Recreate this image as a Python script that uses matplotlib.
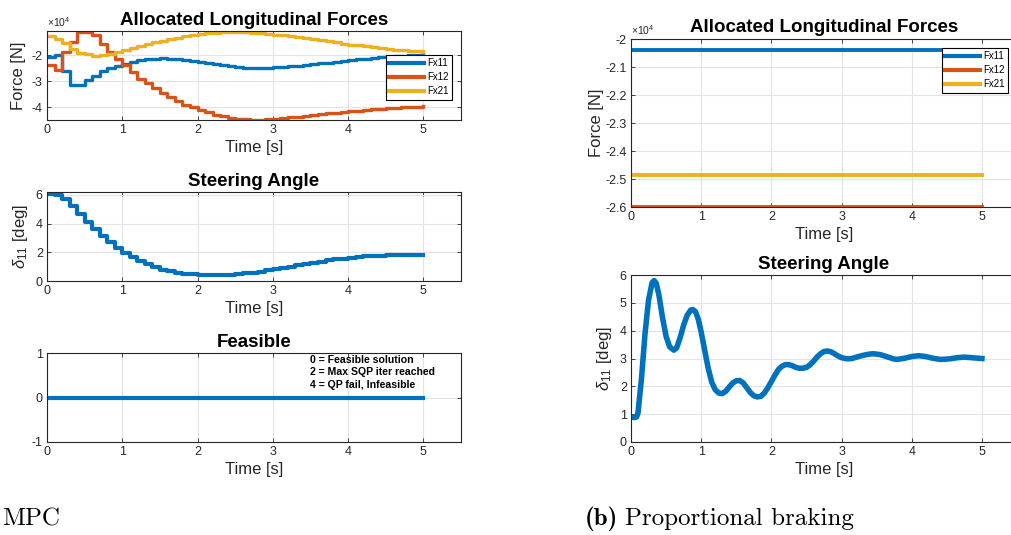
import numpy as np
import matplotlib
matplotlib.use("Agg")
import matplotlib.pyplot as plt
from matplotlib.ticker import FormatStrFormatter

plt.rcParams['font.family'] = ['Liberation Sans', 'DejaVu Sans']
plt.rcParams['mathtext.fontset'] = 'custom'
plt.rcParams['mathtext.rm'] = 'Liberation Sans'
plt.rcParams['mathtext.it'] = 'Liberation Sans:italic'
plt.rcParams['axes.unicode_minus'] = False

# MATLAB default colors
C1, C2, C3 = '#0072BD', '#D95319', '#EDB120'
DARK = '#262626'

# ---- (a) MPC, sampled every 0.1 s (x 1e4 N for forces)
t_mpc = np.round(np.arange(0, 5.01, 0.1), 2)
fx11_mpc = [-2.07, -1.99, -2.62, -3.12, -3.12, -2.95, -2.78, -2.62, -2.49, -2.40,
            -2.32, -2.25, -2.20, -2.16, -2.13, -2.12, -2.13, -2.15, -2.18, -2.22,
            -2.26, -2.30, -2.34, -2.38, -2.42, -2.45, -2.47, -2.48, -2.48, -2.47,
            -2.46, -2.44, -2.42, -2.40, -2.37, -2.34, -2.31, -2.28, -2.25, -2.22,
            -2.19, -2.16, -2.13, -2.10, -2.07, -2.05, -2.03, -2.01, -1.99, -1.98,
            -1.97]
fx12_mpc = [-2.38, -2.57, -1.87, -1.49, -1.09, -1.09, -1.24, -1.56, -1.87, -2.16,
            -2.38, -2.63, -2.89, -3.08, -3.27, -3.46, -3.61, -3.77, -3.90, -3.99,
            -4.09, -4.19, -4.27, -4.34, -4.39, -4.43, -4.46, -4.47, -4.47, -4.46,
            -4.44, -4.41, -4.38, -4.35, -4.32, -4.29, -4.26, -4.23, -4.20, -4.18,
            -4.15, -4.12, -4.10, -4.07, -4.05, -4.03, -4.01, -3.99, -3.98, -3.97,
            -3.96]
fx21_mpc = [-1.28, -1.37, -1.53, -1.75, -1.90, -1.97, -2.01, -2.00, -1.94, -1.86,
            -1.79, -1.71, -1.64, -1.57, -1.50, -1.44, -1.38, -1.32, -1.27, -1.23,
            -1.19, -1.16, -1.13, -1.11, -1.10, -1.10, -1.11, -1.13, -1.15, -1.18,
            -1.21, -1.24, -1.27, -1.31, -1.35, -1.39, -1.43, -1.47, -1.51, -1.55,
            -1.59, -1.62, -1.66, -1.69, -1.72, -1.75, -1.78, -1.81, -1.83, -1.85,
            -1.87]
delta_mpc = [6.08, 6.00, 5.70, 5.20, 4.65, 4.10, 3.60, 3.15, 2.70, 2.30,
             1.95, 1.65, 1.38, 1.15, 0.95, 0.80, 0.68, 0.58, 0.51, 0.46,
             0.43, 0.41, 0.41, 0.42, 0.44, 0.48, 0.53, 0.59, 0.66, 0.74,
             0.82, 0.91, 1.00, 1.09, 1.18, 1.27, 1.35, 1.43, 1.50, 1.56,
             1.62, 1.67, 1.71, 1.74, 1.77, 1.79, 1.80, 1.81, 1.82, 1.82,
             1.82]
feasible = [0] * len(t_mpc)

# ---- (b) Proportional braking
t_pb_force = [0, 5]
fx11_pb = [-2.039, -2.039]
fx12_pb = [-2.600, -2.600]
fx21_pb = [-2.485, -2.485]

t_pb = [0.00, 0.05, 0.08, 0.10, 0.15, 0.20, 0.25, 0.30, 0.33, 0.36, 0.40, 0.45,
        0.50, 0.55, 0.61, 0.65, 0.70, 0.75, 0.80, 0.85, 0.88, 0.92, 0.96, 1.00,
        1.05, 1.10, 1.15, 1.20, 1.25, 1.30, 1.35, 1.40, 1.45, 1.50, 1.55, 1.60,
        1.65, 1.70, 1.75, 1.80, 1.85, 1.90, 1.95, 2.00, 2.05, 2.10, 2.15, 2.20,
        2.25, 2.30, 2.35, 2.40, 2.45, 2.50, 2.55, 2.60, 2.65, 2.70, 2.75, 2.80,
        2.85, 2.90, 2.95, 3.00, 3.05, 3.10, 3.15, 3.20, 3.30, 3.40, 3.46, 3.55,
        3.65, 3.75, 3.80, 3.90, 4.00, 4.10, 4.20, 4.30, 4.40, 4.45, 4.55, 4.65,
        4.75, 4.85, 5.00]
delta_pb = [0.90, 0.88, 0.90, 1.05, 2.30, 3.90, 5.10, 5.72, 5.80, 5.70, 5.25, 4.45,
            3.80, 3.42, 3.30, 3.38, 3.75, 4.20, 4.55, 4.74, 4.76, 4.68, 4.40, 3.95,
            3.30, 2.65, 2.15, 1.88, 1.76, 1.74, 1.82, 1.98, 2.12, 2.20, 2.21, 2.12,
            1.95, 1.78, 1.66, 1.62, 1.64, 1.76, 1.95, 2.17, 2.40, 2.60, 2.72, 2.78,
            2.78, 2.74, 2.68, 2.65, 2.65, 2.68, 2.77, 2.90, 3.05, 3.17, 3.25, 3.27,
            3.24, 3.17, 3.09, 3.03, 3.00, 2.99, 3.00, 3.04, 3.11, 3.16, 3.17, 3.14,
            3.06, 2.98, 2.97, 3.01, 3.07, 3.10, 3.07, 3.01, 2.97, 2.97, 2.99, 3.03,
            3.05, 3.03, 3.00]

W, H = 1011, 535
fig = plt.figure(figsize=(W / 100, H / 100), dpi=100)


def px_axes(x0, y0, x1, y1):
    # pixel box (top-left origin) -> figure axes
    return fig.add_axes([x0 / W, 1 - y1 / H, (x1 - x0) / W, (y1 - y0) / H])


def matlab_style(ax):
    ax.set_xlim(0, 5.5)
    ax.set_xticks([0, 1, 2, 3, 4, 5])
    ax.grid(True, color='#e3e3e3', linewidth=0.8)
    ax.set_axisbelow(True)
    ax.tick_params(direction='in', top=True, right=True, labelsize=9,
                   colors=DARK, length=3, width=0.6, pad=3)
    for s in ax.spines.values():
        s.set_color(DARK)
        s.set_linewidth(0.8)
    ax.set_xlabel('Time [s]', fontsize=12, color=DARK, labelpad=3)


def add_legend(ax, anchor, fs):
    leg = ax.legend(['Fx11', 'Fx12', 'Fx21'], loc='upper right', bbox_to_anchor=anchor,
                    borderaxespad=0, fancybox=False, framealpha=1, fontsize=fs,
                    edgecolor='black', handlelength=3.6, handletextpad=0.3,
                    borderpad=0.35, labelspacing=0.4)
    leg.get_frame().set_linewidth(0.8)
    for line in leg.get_lines():
        line.set_linewidth(3)


TITLE = dict(fontsize=13.5, fontweight='bold')

# ----- left column
ax1 = px_axes(47, 31, 461, 120)
ax1.step(t_mpc, fx11_mpc, where='post', color=C1, lw=2.4)
ax1.step(t_mpc, fx12_mpc, where='post', color=C2, lw=2.4)
ax1.step(t_mpc, fx21_mpc, where='post', color=C3, lw=2.4)
matlab_style(ax1)
ax1.set_ylim(-4.48, -1.07)
ax1.set_yticks([-4, -3, -2])
ax1.yaxis.set_major_formatter(FormatStrFormatter('%g'))
ax1.set_ylabel('Force [N]', fontsize=12, color=DARK, labelpad=4)
ax1.set_title('Allocated Longitudinal Forces', pad=4, **TITLE)
ax1.text(0, 1.02, r'$\times10^{4}$', transform=ax1.transAxes, fontsize=7.5,
         color=DARK, va='bottom')
add_legend(ax1, (0.978, 0.73), 7)

ax2 = px_axes(47, 192, 461, 281)
ax2.step(t_mpc, delta_mpc, where='post', color=C1, lw=3)
matlab_style(ax2)
ax2.set_ylim(0, 6.2)
ax2.set_yticks([0, 2, 4, 6])
ax2.set_ylabel(r'$\delta_{11}$ [deg]', fontsize=12, color=DARK, labelpad=4)
ax2.set_title('Steering Angle', pad=4, **TITLE)

ax3 = px_axes(47, 353, 461, 442)
ax3.plot(t_mpc, feasible, color=C1, lw=3)
matlab_style(ax3)
ax3.set_ylim(-1, 1)
ax3.set_yticks([-1, 0, 1])
ax3.set_title('Feasible', pad=4, **TITLE)
ax3.text(3.49, 0.96, '0 = Feasible solution\n2 = Max SQP iter reached\n4 = QP fail, Infeasible',
         fontsize=7.6, fontweight='bold', va='top', ha='left', linespacing=1.3)

# ----- right column
bx1 = px_axes(631, 39, 1017, 207)
bx1.plot(t_pb_force, fx11_pb, color=C1, lw=2.8)
bx1.plot(t_pb_force, fx12_pb, color=C2, lw=2.8)
bx1.plot(t_pb_force, fx21_pb, color=C3, lw=2.8)
matlab_style(bx1)
bx1.set_ylim(-2.6, -2.0)
bx1.set_yticks([-2.6, -2.5, -2.4, -2.3, -2.2, -2.1, -2.0])
bx1.yaxis.set_major_formatter(FormatStrFormatter('%g'))
bx1.set_ylabel('Force [N]', fontsize=12, color=DARK, labelpad=1)
bx1.set_title('Allocated Longitudinal Forces', pad=5, **TITLE)
bx1.text(0, 1.01, r'$\times10^{4}$', transform=bx1.transAxes, fontsize=7.5,
         color=DARK, va='bottom')
add_legend(bx1, (0.977, 0.946), 7)

bx2 = px_axes(631, 275, 1017, 442)
bx2.plot(t_pb, delta_pb, color=C1, lw=4)
matlab_style(bx2)
bx2.set_ylim(0, 6)
bx2.set_yticks([0, 1, 2, 3, 4, 5, 6])
bx2.set_ylabel(r'$\delta_{11}$ [deg]', fontsize=12, color=DARK, labelpad=4)
bx2.set_title('Steering Angle', pad=4, **TITLE)

# ----- sub-captions
fig.text(2 / W, 1 - 525 / H, 'MPC', fontsize=18, family='cmr10', va='baseline')
tb = fig.text(585 / W, 1 - 525 / H, '(b)', fontsize=18, family='cmb10', va='baseline')
fig.canvas.draw()
bb = tb.get_window_extent()
fig.text((bb.x1 + 7) / W, 1 - 525 / H, 'Proportional braking', fontsize=18,
         family='cmr10', va='baseline')

fig.savefig('out.png', dpi=100)
